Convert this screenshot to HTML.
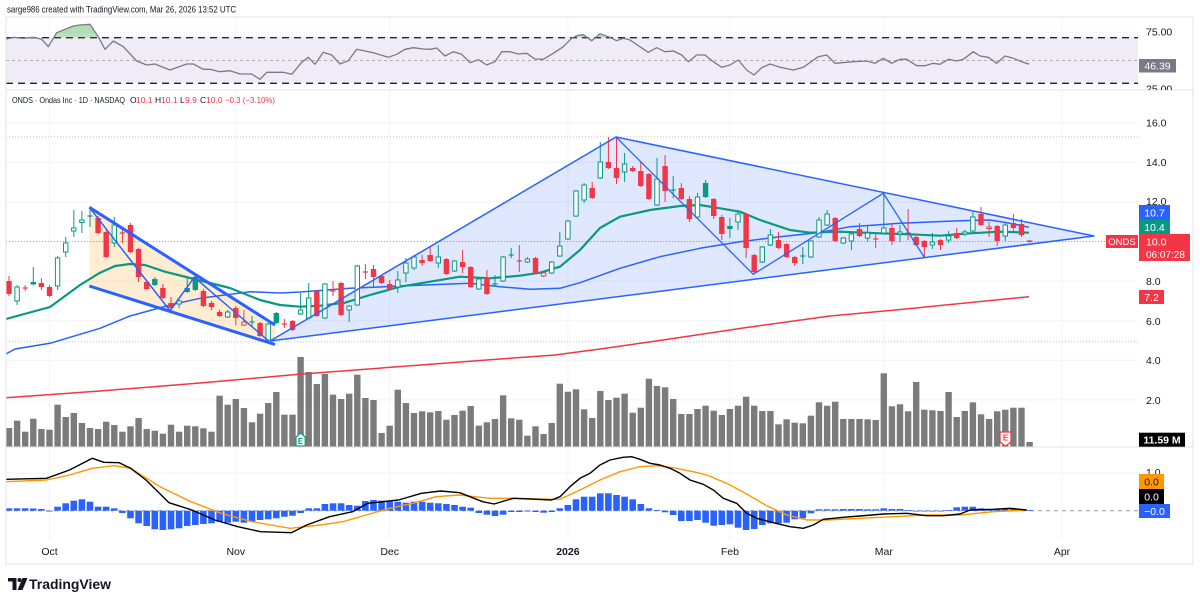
<!DOCTYPE html>
<html><head><meta charset="utf-8">
<style>
html,body{margin:0;padding:0;background:#fff;}
svg{display:block;font-family:"Liberation Sans",Arial,sans-serif;}
</style></head><body>
<svg id="c" width="1200" height="604" viewBox="0 0 1200 604" xmlns="http://www.w3.org/2000/svg">
<defs>
<clipPath id="cm"><rect x="6" y="91" width="1132" height="356"/></clipPath>
<clipPath id="cr"><rect x="6" y="17" width="1132" height="73"/></clipPath>
<clipPath id="cob"><rect x="6" y="17" width="1132" height="20.7"/></clipPath>
<clipPath id="cd"><rect x="6" y="448" width="1132" height="92"/></clipPath>
<clipPath id="c25"><rect x="1139" y="80" width="60" height="10"/></clipPath>
<linearGradient id="gg" x1="0" y1="0" x2="0" y2="1"><stop offset="0" stop-color="#4caf50" stop-opacity="0.45"/><stop offset="1" stop-color="#4caf50" stop-opacity="0.12"/></linearGradient>
</defs>
<rect width="1200" height="604" fill="#fff"/>
<g id="grid"></g>
<!-- RSI pane -->
<rect x="6" y="37.7" width="1132" height="45.6" fill="#efecf8"/>
<g clip-path="url(#cr)">
<line x1="6" y1="37.7" x2="1138" y2="37.7" stroke="#222" stroke-width="1.4" stroke-dasharray="7,5"/>
<line x1="6" y1="83.3" x2="1138" y2="83.3" stroke="#222" stroke-width="1.4" stroke-dasharray="7,5"/>
<line x1="6" y1="60.5" x2="1138" y2="60.5" stroke="#9a9a9a" stroke-width="0.8" stroke-dasharray="3,3"/>
<g id="rsi"></g>
</g>
<!-- main pane -->
<g clip-path="url(#cm)">
<line x1="6" y1="136.7" x2="1138" y2="136.7" stroke="#c3c5cc" stroke-width="1" stroke-dasharray="1,2"/>
<line x1="6" y1="341.7" x2="1138" y2="341.7" stroke="#c3c5cc" stroke-width="1" stroke-dasharray="1,2"/>
<g id="vol"></g>
<polygon points="270,341 616,137 1094,236" fill="#2962ff" fill-opacity="0.15"/>
<polygon points="89.3,207.3 275,325 275,344.5 89.3,286" fill="#ff9800" fill-opacity="0.18"/>
<line x1="6" y1="241.5" x2="1106" y2="241.5" stroke="#f23645" stroke-opacity="0.55" stroke-width="1" stroke-dasharray="1,2"/>
<g id="ma"></g>
<g id="cnd"></g>
<polyline points="270,341 616,137 1094,236 270,341" fill="none" stroke="#2962ff" stroke-width="1.5" stroke-linejoin="round"/>
<polyline points="616,137 753.3,274.3 883.3,193.3 924.3,257.3" fill="none" stroke="#2962ff" stroke-width="1.3"/>
<line x1="89.3" y1="207.3" x2="275" y2="325" stroke="#2962ff" stroke-width="3"/>
<line x1="89.3" y1="286" x2="275" y2="344.5" stroke="#2962ff" stroke-width="3"/>
<polyline points="89.3,207.3 170,310.7 194.3,277.3 268.3,340.7" fill="none" stroke="#2962ff" stroke-width="1.5"/>
<path d="M296,446 L296,437 L300.6,433 L305.2,437 L305.2,446 Z" fill="#fff" stroke="#089981" stroke-width="1.2"/>
<text x="300.6" y="444" font-size="8" font-weight="bold" fill="#089981" text-anchor="middle">E</text>
<path d="M1000,432 L1011,432 L1011,442 L1005.5,446 L1000,442 Z" fill="#fff" stroke="#f23645" stroke-width="1.2"/>
<text x="1005.5" y="440.5" font-size="8" font-weight="bold" fill="#f23645" text-anchor="middle">E</text>
</g>
<!-- MACD pane -->
<g clip-path="url(#cd)">
<line x1="6" y1="510.7" x2="1138" y2="510.7" stroke="#9a9a9a" stroke-width="1" stroke-dasharray="4,4"/>
<g id="macd"></g>
</g>
<!-- borders -->
<rect x="6" y="17" width="1187" height="547" fill="none" stroke="#e0e3eb" stroke-width="1"/>
<line x1="6" y1="90" x2="1193" y2="90" stroke="#e0e3eb" stroke-width="1"/>
<line x1="6" y1="447" x2="1193" y2="447" stroke="#e0e3eb" stroke-width="1"/>

<!-- header & legend -->
<text x="7" y="12.5" font-size="9.5" fill="#131722" textLength="229" lengthAdjust="spacingAndGlyphs">sarge986 created with TradingView.com, Mar 26, 2026 13:52 UTC</text>
<g font-size="8.5" fill="#131722">
<text x="12" y="103" textLength="113" lengthAdjust="spacingAndGlyphs">ONDS · Ondas Inc · 1D · NASDAQ</text>
<text x="130" y="103">O</text>
<text x="136" y="103" fill="#f23645">10.1</text>
<text x="155" y="103">H</text>
<text x="161" y="103" fill="#f23645">10.1</text>
<text x="180" y="103">L</text>
<text x="185" y="103" fill="#f23645">9.9</text>
<text x="200" y="103">C</text>
<text x="206" y="103" fill="#f23645">10.0</text>
<text x="225" y="103" fill="#f23645" textLength="50" lengthAdjust="spacingAndGlyphs">−0.3 (−3.10%)</text>
</g>

<!-- right axis: RSI -->
<g font-size="10.5" fill="#131722">
<text x="1146" y="35.5">75.00</text>
<text x="1146" y="92.5" clip-path="url(#c25)">25.00</text>
</g>
<rect x="1139" y="59" width="37" height="13.5" fill="#787b86"/>
<text x="1157.5" y="69.5" font-size="10.5" fill="#fff" text-anchor="middle">46.39</text>

<!-- right axis: price -->
<g font-size="10.5" fill="#131722">
<text x="1146" y="126.5">16.0</text>
<text x="1146" y="166">14.0</text>
<text x="1146" y="205">12.0</text>
<text x="1146" y="285">8.0</text>
<text x="1146" y="325">6.0</text>
<text x="1146" y="364">4.0</text>
<text x="1146" y="404">2.0</text>
</g>
<rect x="1139" y="205" width="31" height="15" fill="#2962ff"/>
<text x="1154.5" y="216.5" font-size="10.5" fill="#fff" text-anchor="middle">10.7</text>
<rect x="1139" y="220" width="31" height="14" fill="#089981"/>
<text x="1154.5" y="231" font-size="10.5" fill="#fff" text-anchor="middle">10.4</text>
<rect x="1139" y="234" width="51" height="27" fill="#f23645"/>
<text x="1146" y="245.5" font-size="10.5" fill="#fff">10.0</text>
<text x="1146" y="258" font-size="10" fill="#fff">06:07:28</text>
<rect x="1106" y="235" width="32" height="13" fill="#f23645"/>
<text x="1122" y="245" font-size="9.5" fill="#fff" text-anchor="middle">ONDS</text>
<rect x="1139" y="290" width="25" height="14" fill="#f23645"/>
<text x="1151.5" y="301" font-size="10.5" fill="#fff" text-anchor="middle">7.2</text>
<rect x="1139" y="432.7" width="46" height="14" fill="#000"/>
<text x="1162" y="443.5" font-size="10.5" font-weight="bold" fill="#fff" text-anchor="middle">11.59 M</text>

<!-- right axis: MACD -->
<text x="1146" y="476" font-size="10.5" fill="#131722">1.0</text>
<rect x="1139" y="474" width="25" height="15" fill="#ff9800"/>
<text x="1151.5" y="485.5" font-size="10.5" fill="#131722" text-anchor="middle">0.0</text>
<rect x="1139" y="489" width="25" height="15" fill="#000"/>
<text x="1151.5" y="500.5" font-size="10.5" fill="#fff" text-anchor="middle">0.0</text>
<rect x="1139" y="504" width="31" height="14" fill="#2962ff"/>
<text x="1154.5" y="515" font-size="10.5" fill="#fff" text-anchor="middle">−0.0</text>

<!-- time axis -->
<g font-size="10.5" fill="#131722" text-anchor="middle">
<text x="49.5" y="555">Oct</text>
<text x="235.8" y="555">Nov</text>
<text x="389.7" y="555">Dec</text>
<text x="567.9" y="555" font-weight="bold">2026</text>
<text x="729.9" y="555">Feb</text>
<text x="883.8" y="555">Mar</text>
<text x="1062" y="555">Apr</text>
</g>

<!-- logo -->
<path d="M8,578 H16.5 V590 H12.5 V581.5 H8 Z" fill="#131722"/>
<circle cx="19.5" cy="580" r="2" fill="#131722"/>
<path d="M22.5,578 H27.5 L22.5,590 H17.5 Z" fill="#131722"/>
<text x="29" y="589" font-size="14" font-weight="bold" fill="#131722" textLength="82" lengthAdjust="spacingAndGlyphs">TradingView</text>
</svg>
<script>
(function(){
const NS="http://www.w3.org/2000/svg";
function el(p,tag,a){const e=document.createElementNS(NS,tag);for(const k in a)e.setAttribute(k,a[k]);document.getElementById(p).appendChild(e);return e;}
const X=i=>9+8.1*i;
[122.7,162.3,201.9,241.5,281.1,320.7,360.3,399.9].forEach(y=>el('grid','line',{x1:6,y1:y,x2:1138,y2:y,stroke:'#f0f3fa','stroke-width':1}));
[32.3].forEach(y=>el('grid','line',{x1:6,y1:y,x2:1138,y2:y,stroke:'#f0f3fa','stroke-width':1}));
[473].forEach(y=>el('grid','line',{x1:6,y1:y,x2:1138,y2:y,stroke:'#f0f3fa','stroke-width':1}));
[49.5,235.8,389.7,567.9,729.9,883.8,1062].forEach(x=>el('grid','line',{x1:x,y1:17,x2:x,y2:540,stroke:'#f0f3fa','stroke-width':1}));
const pts=a=>a.map(p=>p[0]+','+p[1]).join(' ');
const R=[[6,39.3],[13.3,37.3],[23.3,38.3],[33.3,37.3],[41.7,39.3],[48.3,46.7],[56.7,32.7],[73.3,26],[80,25],[90,24.3],[98.3,36.7],[105,49.3],[113.3,41],[123.3,46.7],[136.7,61],[146.7,65],[155,64],[170,70],[186.7,64],[193.3,64],[203.3,69.3],[210,69.3],[220,71.7],[230,70.7],[240,74],[251.7,74],[260,79.3],[266.7,72.3],[283.3,72.3],[291.7,74.3],[301.7,62.3],[308.3,57.3],[315,64.3],[323.3,52.3],[331.7,55],[340,64],[348.3,60.7],[356.7,49.3],[373.3,52.7],[388.3,57.3],[396.7,54.3],[405,49.3],[413.3,47.7],[423.3,49],[430,49.3],[436.7,48],[445,56],[453.3,51.7],[461.7,54.3],[470,62.7],[478.3,59.7],[486.7,65],[495,61.7],[501.7,51.7],[510,51.7],[518.3,54],[526.7,53.3],[535,59],[543.3,59.3],[553.3,53.3],[563.3,46.7],[571.7,38.3],[576.7,35.7],[583.3,34.7],[591.7,40.7],[600,33.7],[608.3,36.7],[616.7,40.7],[623.3,38.3],[630,40],[638.3,45.7],[648.3,52.3],[656.7,47.7],[665,51.7],[673.3,51],[681.7,55],[688.3,61.7],[696.7,55],[705,55],[713.3,61.7],[721.7,67.3],[730,65],[738.3,60],[746.7,70],[754,75],[761.7,67.7],[770,64],[780,67.3],[793.3,70],[803.3,67.3],[818.3,56.7],[826.7,55],[835,63.3],[853.3,61.7],[866.7,61],[875,63.3],[883.3,58.3],[891.7,63.3],[900,59.3],[906.7,59.3],[916.7,65.7],[925,65.7],[933.3,63.3],[940,64.3],[948.3,59.3],[956.7,61],[963.3,59.3],[973.3,51.7],[980,56],[988.3,57.3],[996.7,63.3],[1005,56],[1013.3,58.3],[1021.7,61.7],[1029.3,64.3]];
el('rsi','polygon',{points:pts(R)+' 1029.3,37.7 6,37.7',fill:'url(#gg)','clip-path':'url(#cob)'});
el('rsi','polyline',{points:pts(R),fill:'none',stroke:'#7a7a84','stroke-width':1.3,'stroke-linejoin':'round'});
const V=[428,420.7,431.7,418.7,429,429.7,404.7,417,413,423,428,429,421.7,425,431.7,426.3,418,429,430.7,433.7,424.7,431.7,425.7,426.3,428.3,431.7,395.7,404.7,399,408,422.3,413.7,403,392,414.7,414.7,357,372,384,374,394.7,399,393.7,374.7,398,400,433,425.7,389.7,403,413,411.3,412.3,411,419.7,415,410.7,406,425.7,422.3,419,395.3,418.3,419.7,435.7,426.3,434,423,383.7,
391.7,389.3,409.3,418,391,400,397.7,393.7,412.7,407.7,378.7,386,387.3,399,414,414,409,405.7,410.7,415,409,405.7,396.7,405.7,411,411,424.3,419.3,422.7,423.3,415.7,402.3,405.7,401.7,419,419,419,419.3,420,373.3,406.3,404.3,411.3,382,409.7,410.3,411,392,417,411,402.3,414.3,419,411.3,409.7,407.7,407.7,442];
V.forEach((t,i)=>el('vol','rect',{x:X(i)-3.2,y:t,width:6.4,height:447-t,fill:'#7b7b7b'}));
const G=[[6,319],[50,307],[80,285],[100,272.7],[115,266],[130,264],[145,265],[165,271.7],[190,278],[230,288],[260,300],[280,305],[300,306.7],[320,305.7],[345,302.7],[370,295],[400,286.7],[430,281.7],[460,276.7],[490,278.3],[520,275.7],[540,272.7],[560,266.7],[580,250],[600,228],[620,216.7],[650,210],[680,206],[700,205],[720,208.3],[740,211.7],[760,220],[790,230],[810,232.7],[840,231.7],[880,233.3],[910,234.3],[940,235.7],[970,233.3],[1000,231.7],[1029,232.7]];
const B=[[6,354],[15,349],[50,343.3],[100,328.3],[130,316],[170,305],[200,298.3],[250,291.7],[280,293],[300,292],[350,288.3],[400,286],[450,284],[470,283.3],[500,286.7],[530,289.3],[560,288.3],[580,282.7],[620,268.3],[660,256.7],[700,248.3],[740,241.7],[780,236.7],[820,232.5],[850,226.7],[900,223.3],[960,220.7],[990,220],[1010,223.3],[1029,227.3]];
const RD=[[6,397.7],[100,391],[200,383],[299,374.3],[421,365],[500,359],[555,355],[600,349],[663,340],[750,327],[830,316],[903,309.3],[1029,296.7]];
el('ma','polyline',{points:pts(RD),fill:'none',stroke:'#f23645','stroke-width':1.5,'stroke-linejoin':'round'});
el('ma','polyline',{points:pts(B),fill:'none',stroke:'#2962ff','stroke-width':1.5,'stroke-linejoin':'round'});
el('ma','polyline',{points:pts(G),fill:'none',stroke:'#089981','stroke-width':2.2,'stroke-linejoin':'round'});
const C=[['r',281,294,276,296],['h',287,301,285,305],['xr',288,288,285,291],['g',282,284.5,267,285],['r',283,287,278,290],['r',287,296,285,297],['h',258,286,256,290],['h',243,252,237,257],['h',228,231,210,237],['h',220,222.5,211,233],
['xg',216,216,210,227],['r',218,233,216,234],['r',232,257,230,258],['h',225,243,217,247],['xr',233,233,228,243],['r',225,252,223,253],['r',249,277,248,282],['r',282,289,280,290],['g',279,285,277,286],['r',288,298,284,299],
['r',303,308,297,312],['h',301,304,298,308],['g',288,292,278,293],['g',277,290,276,291],['r',291,306,289,307],['r',303,307,301,310],['r',312,316,310,317],['h',312,317,310,318],['r',308,318,306,325],['H',322,325,310,326],
['xg',322,322,316,327],['r',323,336,322,337],['h',324,340,323,341],['g',313,323,312,324],['xr',324,324,319,328],['r',321,330,320,331],['h',310,314,293,315],['h',298,318,283,319],['r',291,316,290,317],['h',284,318,283,319],
['xr',291,291,281,296],['r',283,315,282,316],['h',306,310,305,322],['h',266,305,265,306],['xr',272,272,264,279],['r',269,277,265,287],['r',276,283,275,284],['r',284,289,280,290],['h',280,287,271,293],['h',263,273,258,282],
['h',257,268,256,270],['r',260,263,255,266],['r',255,261,246,262],['h',257,263,245,268],['r',259,274,258,275],['h',261,271,260,272],['r',262,267,250,273],['r',267,287,266,288],['h',279,289,278,290],['r',278,294,270,295],
['xg',284,284,275,287],['h',257,281,256,282],['xg',255,255,248,258],['xr',261,261,245,272],['h',259,262,257,263],['r',258,273,257,274],['H',273,276,272,277],['h',262,273,261,274],['h',246,256,232,257],['h',221,239,220,240],
['h',191,216,190,217],['h',185,200,183,203],['r',188,198,182,199],['h',162,178,142,179],['r',162,168,137,169],['r',168,178,137,184],['h',164,172,153,182],['r',168,171,166,172],['r',171,186,161,187],['r',174,199,173,200],
['h',179,205,158,206],['r',166,191,155,202],['xg',190,190,176,198],['r',188,199,183,200],['r',199,219,196,222],['h',197,217,193,218],['g',183,197,180,198],['r',199,216,198,219],['r',217,234,215,240],['g',226,229,218,238],
['h',214,222,210,230],['r',214,248,213,258],['r',255,272,254,273],['h',247,262,246,263],['h',235,245,229,246],['r',240,248,232,249],['r',244,257,243,258],['r',257,263,256,266],['xg',256,256,247,264],['h',241,257,240,258],
['h',220,237,217,238],['h',214,225,210,226],['r',218,241,217,242],['h',238,243,237,244],['h',234,241,233,250],['r',229,236,223,237],['h',233,238,226,242],['xr',239,239,233,248],['h',228,233,193,234],['r',228,241,223,245],
['h',232,234,225,242],['xr',233,233,209,240],['r',237,245,236,246],['r',241,247,240,257],['h',242,245,233,249],['r',240,245,239,250],['h',236,240,231,243],['r',233,238,228,239],['h',232,234,230,236],['h',217,231,212,232],
['r',214,225,207,226],['H',227,228.5,222,237],['r',226,241,225,246],['h',225,236,222,241],['r',223,228,214,232],['r',224,235,219,237],['r',240.5,242,240,242.5]];
const GR='#089981',RE='#f23645';
C.forEach((c,i)=>{
  const x=X(i),t=c[0];
  const col=(t==='r'||t==='H'||t==='xr')?RE:GR;
  el('cnd','line',{x1:x,y1:c[3],x2:x,y2:c[4],stroke:col,'stroke-width':1});
  if(t==='xr'||t==='xg'){
    el('cnd','line',{x1:x-2.6,y1:c[1],x2:x+2.6,y2:c[1],stroke:col,'stroke-width':1.2});
  }else if(t==='h'||t==='H'){
    el('cnd','rect',{x:x-2.2,y:c[1],width:4.4,height:Math.max(1,c[2]-c[1]),fill:'#fff',stroke:col,'stroke-width':1});
  }else{
    el('cnd','rect',{x:x-2.7,y:c[1],width:5.4,height:Math.max(1,c[2]-c[1]),fill:col});
  }
});
const HI=[508.3,508.3,508.3,508.5,509,510.7,506.7,503.3,500.7,499.3,501.7,506.7,506.7,508.3,513,518.3,523.3,526,529.3,530,529.3,528.3,526,525,524,523.3,521.7,522.7,521.7,522.7,521.7,520,519.3,518.3,516.7,515.7,513,508.3,508.3,504,503.3,503.3,505,505.7,501,500,500.7,501.7,501.7,502.7,501.7,501.7,502.7,503.3,504,505,506.7,507.7,513,514.7,516,514.7,512,512,511.3,512,512.7,512,508.3,
505,499.3,496.7,496.7,493.3,493.3,495,496.7,499.3,504,508.3,510,512.3,515,521,521,520,522.7,525.7,525,524.3,527.7,530,529,525,523.3,523.3,522.7,519.3,518.3,513.3,509.3,509.3,509.3,509,509,509,509.3,509.3,508.3,509,509,510,511,511.3,511.3,511,510,507.3,506.7,506.7,508.3,509.3,509.3,508.3,508.3,509,510];
const Z=510.7;
HI.forEach((t,i)=>{const y0=Math.min(t,Z),h=Math.max(0.8,Math.abs(t-Z));el('macd','rect',{x:X(i)-3.3,y:y0,width:6.6,height:h,fill:'#2962ff'});});
const MB=[[6,479.3],[46.5,478.3],[69.5,470],[92.4,458.3],[103.9,462.3],[119.2,462.7],[130.7,468.3],[146,480],[169,502.7],[191.9,510],[214.8,520],[237.8,526.7],[260.8,531.7],[291.4,532.7],[306.7,525],[329.6,516.7],[352.6,511.7],[367.9,503.3],[398.5,500],[421.4,493.3],[440.6,491],[459.7,492.7],[482.7,501.7],[494.1,504],[513.3,498.3],[536.2,499.3],[551.5,500],[560,496.7],[570,486.7],[580,478.3],[590,473.3],[600,465],[610,460],[623,457.3],[631.7,456.7],[640,459.3],[650,463.3],[660,465],[670,468.3],[680,473.3],[690,480],[703.3,484.3],[713.3,490],[723.3,498.3],[736.7,503.3],[746.7,513.3],[756.7,518.3],[773.3,522.7],[790,526.7],[803.3,528.3],[813.3,525],[823.3,519.3],[843.3,517.3],[860,516],[883.3,514],[906.7,513.3],[926.7,515.7],[943.3,515.7],[960,514],[970,510],[993.3,509.3],[1010,508.3],[1026.7,510]];
const MO=[[6,481.7],[46.5,480],[69.5,475],[92.4,468.3],[114,465.7],[130.7,468.3],[160,486.7],[191,501.7],[221,513.3],[252,521.7],[290,528.3],[320,525],[343,521.7],[366,515],[390,508.3],[413,503.3],[436,496.7],[459,495],[490,498.3],[520,498.3],[551.5,499.3],[560,499.3],[580,490],[600,480],[620,471.7],[640,466.7],[656.7,465.7],[673.3,467.7],[693.3,471.7],[706.7,475],[726.7,483.3],[746.7,494],[766.7,505.7],[786.7,515],[806.7,520],[826.7,520],[860,518.3],[893.3,516.7],[926.7,515],[960,515],[993.3,511.7],[1026.7,510]];
el('macd','polyline',{points:pts(MO),fill:'none',stroke:'#ff9800','stroke-width':1.4,'stroke-linejoin':'round'});
el('macd','polyline',{points:pts(MB),fill:'none',stroke:'#000','stroke-width':1.4,'stroke-linejoin':'round'});
})();
</script>
</body></html>
